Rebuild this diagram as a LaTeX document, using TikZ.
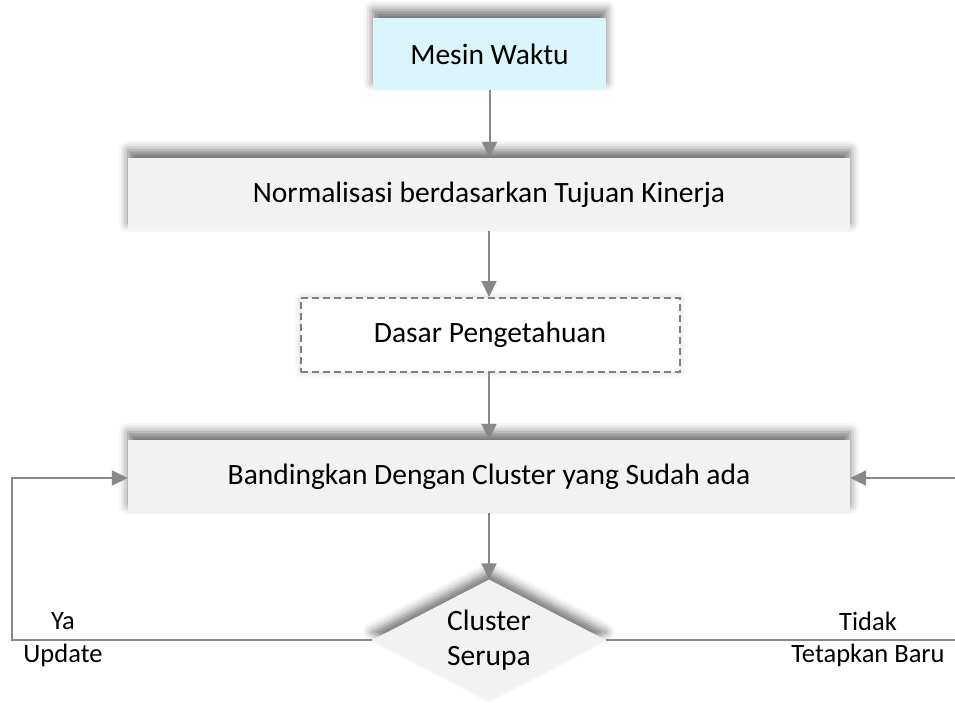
\documentclass[tikz,border=0pt]{standalone}
\usepackage{fontspec}
\setmainfont{Carlito}
\usetikzlibrary{shapes.geometric,arrows.meta,shadows.blur}

\definecolor{boxgray}{HTML}{F2F2F2}
\definecolor{boxcyan}{HTML}{DAF5FC}
\definecolor{linegray}{HTML}{888888}
\definecolor{dashgray}{HTML}{7F7F7F}

\tikzset{
  base/.style={inner sep=0pt, align=center, font=\fontsize{29.5}{35}\selectfont},
  topshadow/.style={blur shadow={shadow xshift=0pt, shadow yshift=8pt,
      shadow blur radius=9pt, shadow opacity=55}},
  procbox/.style={base, rectangle, fill=boxgray, topshadow},
  startbox/.style={base, rectangle, fill=boxcyan, topshadow},
  kbbox/.style={base, rectangle, fill=white, draw=dashgray, dashed,
      line width=2pt, dash pattern=on 7pt off 4pt,
      blur shadow={shadow xshift=0pt, shadow yshift=0pt,
      shadow blur radius=6pt, shadow opacity=20}},
  decision/.style={base, diamond, fill=boxgray, topshadow},
  arr/.style={draw=linegray, line width=2pt,
      -{Triangle[length=16pt,width=15pt]}, color=linegray},
  lbl/.style={inner sep=0pt, font=\fontsize{26.5}{30}\selectfont}
}

\begin{document}
\begin{tikzpicture}[x=1pt, y=-1pt]
  \useasboundingbox (0,0) rectangle (955,702);

  % process chain
  \node[startbox, minimum width=233pt, minimum height=72pt] (mesin) at (489.5,54) {Mesin Waktu};
  \node[procbox, minimum width=722pt, minimum height=73pt] (norm) at (489,194.5)
    {Normalisasi berdasarkan Tujuan Kinerja};
  \node[kbbox, minimum width=379pt, minimum height=74pt] (dasar) at (490,335) {Dasar Pengetahuan};
  \node[procbox, minimum width=722pt, minimum height=73pt] (band) at (489,476.5)
    {Bandingkan Dengan Cluster yang Sudah ada};
  \node[decision, minimum width=234pt, minimum height=121pt,
        label={[base, align=center]center:Cluster\\Serupa}] (dec) at (489,640) {};

  % side routes
  \coordinate (lx) at (12,0);
  \coordinate (rx) at (960,0);

  % connectors
  \draw[arr] (mesin.south) -- (mesin.south |- norm.north);
  \draw[arr] (norm.south) -- (norm.south |- dasar.north);
  \draw[arr] (dasar.south -| norm.south) -- (band.north);
  \draw[arr] (band.south) -- (dec.north);
  \draw[arr] (dec.west) -- (dec.west -| lx) |- ([yshift=-1.5pt]band.west);
  \draw[arr] (dec.east) -- (dec.east -| rx) |- ([yshift=-1.5pt]band.east);

  % branch labels
  \node[lbl] (ya) at (63,621) {Ya};
  \node[lbl] (upd) at (63,655) {Update};
  \node[lbl] (tidak) at (868,621) {Tidak};
  \node[lbl] (baru) at (868,655) {Tetapkan Baru};
\end{tikzpicture}
\end{document}
